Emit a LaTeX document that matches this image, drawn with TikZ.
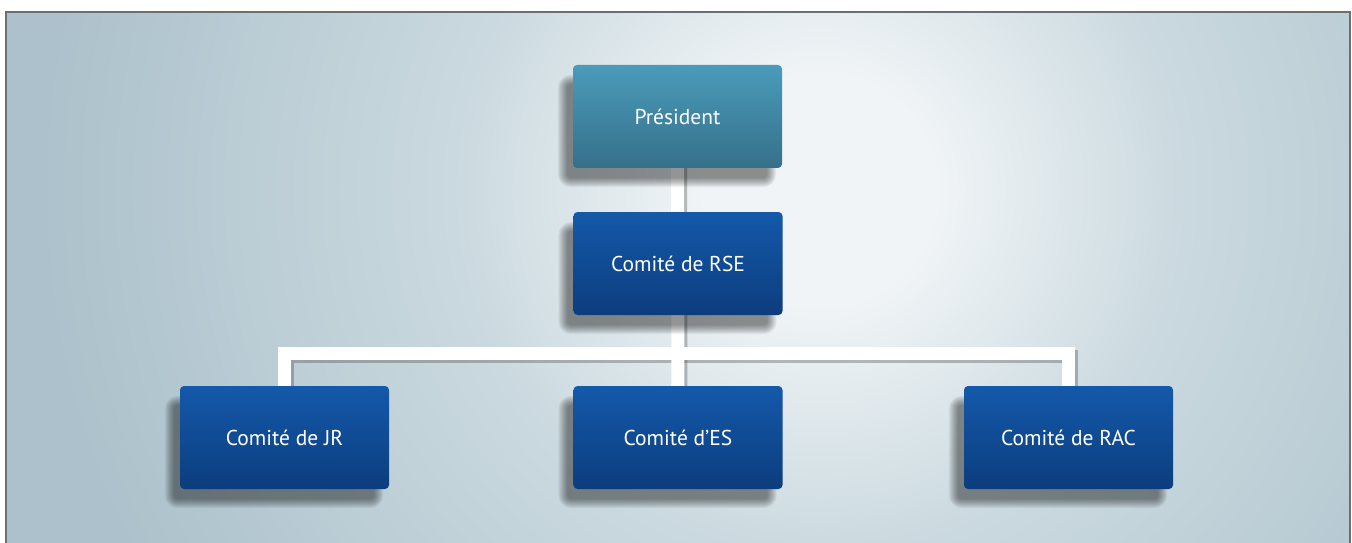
\documentclass[tikz,border=0pt]{standalone}
\usepackage{fontspec}
\setmainfont{PT Sans}
\usetikzlibrary{calc}
\pgfdeclarelayer{background}
\pgfsetlayers{background,main}
\definecolor{bgouter}{HTML}{ACC1CB}
\definecolor{bgmid}{HTML}{CAD9DF}
\definecolor{bginner}{HTML}{F0F4F6}
\definecolor{frame}{HTML}{6E6E6E}
\definecolor{blueTop}{HTML}{1459AA}
\definecolor{blueBot}{HTML}{0C3D7E}
\definecolor{tealTop}{HTML}{4A9BBA}
\definecolor{tealBot}{HTML}{36708A}
\pgfdeclareradialshading{bgshade}{\pgfpoint{0bp}{0bp}}{%
  color(0bp)=(bginner); color(2.5bp)=(bginner); color(8bp)=(bgmid); color(17bp)=(bgouter); color(50bp)=(bgouter)}
\tikzset{
  orgbox/.style={rectangle, rounded corners=4pt, minimum width=209pt, minimum height=103pt,
    inner sep=0pt, text=white, font=\fontsize{21.5}{24}\selectfont, shading angle=8},
  bluebox/.style={orgbox, top color=blueTop, bottom color=blueBot},
  tealbox/.style={orgbox, top color=tealTop, bottom color=tealBot},
  linkshadow/.style={line width=13pt, draw=black!70, opacity=0.35},
  link/.style={line width=13pt, draw=white},
  shadowlayer/.style={fill=black, opacity=0.05},
}
\begin{document}
\begin{tikzpicture}[x=1pt,y=1pt]
\useasboundingbox (0,0) rectangle (1352,542);

% boxes
\node[tealbox] (pres) at (677.5,425.5) {Président};
\node[bluebox] (rse) at (678,278.5) {Comité de RSE};
\node[bluebox] (jr) at (284.5,104.5) {Comité de JR};
\node[bluebox] (es) at (678,104.5) {Comité d’ES};
\node[bluebox] (rac) at (1068.5,104.5) {Comité de RAC};
\coordinate (bar) at (677,189);

\begin{pgfonlayer}{background}
\fill[white] (0,0) rectangle (1352,542);
\begin{scope}
  \clip (6,-5) rectangle (1350,530);
  \shade[shading=bgshade] (820,352) circle (1150);
\end{scope}
\draw[frame, line width=1.5pt] (6,-5) rectangle (1350,530);

% connectors: shadow then white
\begin{scope}[transform canvas={xshift=3pt,yshift=-3pt}]
  \draw[linkshadow] (pres.center) -- (es.center);
  \draw[linkshadow] (jr.center) |- (bar) -| (rac.center);
\end{scope}
\draw[link] (pres.center) -- (es.center);
\draw[link] (jr.center) |- (bar) -| (rac.center);

% soft shadows of the boxes
\foreach \n in {pres,rse,jr,es,rac}{
  \foreach \i in {0,...,9}{
    \fill[shadowlayer, rounded corners=4pt+\i pt]
      ($(\n.south west)+(-6-\i,-10-\i)$) rectangle ($(\n.north east)+(-6+\i-9,-10+\i-9)$);
  }
}
\end{pgfonlayer}
\end{tikzpicture}
\end{document}
